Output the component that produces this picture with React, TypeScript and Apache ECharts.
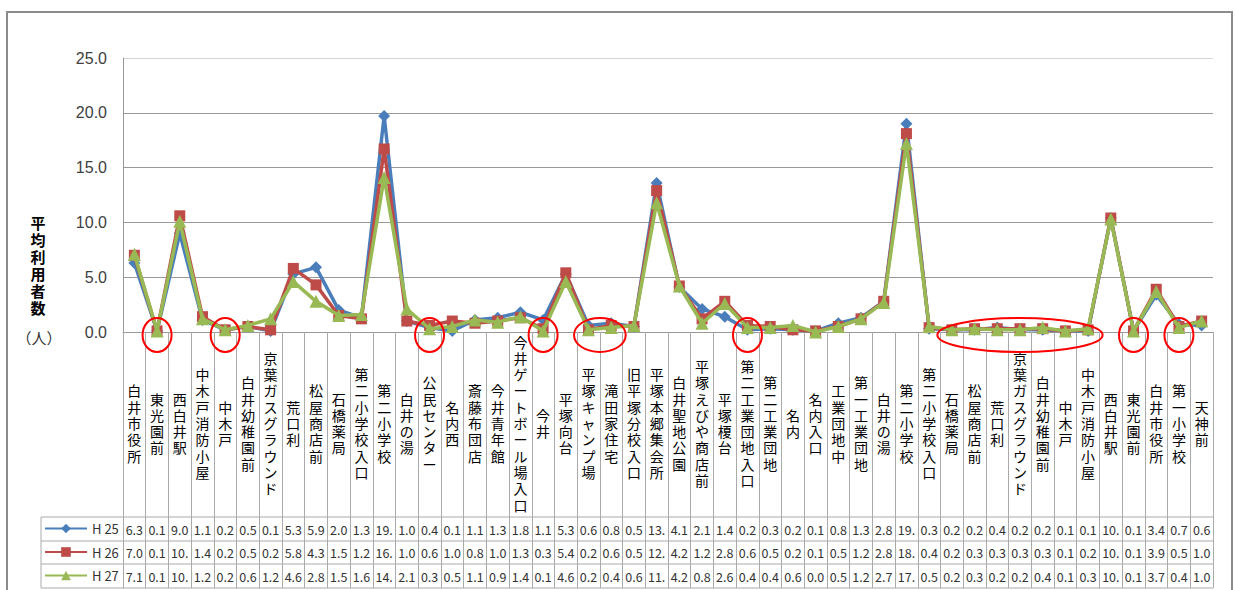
import React, { useEffect, useRef } from "react";
import * as echarts from "echarts";

const categories: string[] = [
  "白井市役所", "東光園前", "西白井駅", "中木戸消防小屋", "中木戸", "白井幼稚園前",
  "京葉ガスグラウンド", "荒口利", "松屋商店前", "石橋薬局", "第二小学校入口", "第二小学校",
  "白井の湯", "公民センター", "名内西", "斎藤布団店", "今井青年館", "今井ゲートボール場入口",
  "今井", "平塚向台", "平塚キャンプ場", "滝田家住宅", "旧平塚分校入口", "平塚本郷集会所",
  "白井聖地公園", "平塚えびや商店前", "平塚榎台", "第二工業団地入口", "第二工業団地", "名内",
  "名内入口", "工業団地中", "第一工業団地", "白井の湯", "第二小学校", "第二小学校入口",
  "石橋薬局", "松屋商店前", "荒口利", "京葉ガスグラウンド", "白井幼稚園前", "中木戸",
  "中木戸消防小屋", "西白井駅", "東光園前", "白井市役所", "第一小学校", "天神前",
];

const h25: number[] = [
  6.3, 0.1, 9.0, 1.1, 0.2, 0.5, 0.1, 5.3, 5.9, 2.0, 1.3, 19.7,
  1.0, 0.4, 0.1, 1.1, 1.3, 1.8, 1.1, 5.3, 0.6, 0.8, 0.5, 13.6,
  4.1, 2.1, 1.4, 0.2, 0.3, 0.2, 0.1, 0.8, 1.3, 2.8, 19.0, 0.3,
  0.2, 0.2, 0.4, 0.2, 0.2, 0.1, 0.1, 10.4, 0.1, 3.4, 0.7, 0.6,
];
const h26: number[] = [
  7.0, 0.1, 10.6, 1.4, 0.2, 0.5, 0.2, 5.8, 4.3, 1.5, 1.2, 16.7,
  1.0, 0.6, 1.0, 0.8, 1.0, 1.3, 0.3, 5.4, 0.2, 0.6, 0.5, 12.9,
  4.2, 1.2, 2.8, 0.6, 0.5, 0.2, 0.1, 0.5, 1.2, 2.8, 18.1, 0.4,
  0.2, 0.3, 0.3, 0.3, 0.3, 0.1, 0.2, 10.4, 0.1, 3.9, 0.5, 1.0,
];
const h27: number[] = [
  7.1, 0.1, 10.1, 1.2, 0.2, 0.6, 1.2, 4.6, 2.8, 1.5, 1.6, 14.1,
  2.1, 0.3, 0.5, 1.1, 0.9, 1.4, 0.1, 4.6, 0.2, 0.4, 0.6, 11.8,
  4.2, 0.8, 2.6, 0.4, 0.4, 0.6, 0.0, 0.5, 1.2, 2.7, 17.2, 0.5,
  0.2, 0.3, 0.2, 0.2, 0.4, 0.1, 0.3, 10.3, 0.1, 3.7, 0.4, 1.0,
];

const seriesNames: string[] = ["H 25", "H 26", "H 27"];
const seriesColors: string[] = ["#4A7EBB", "#BE4B48", "#98B954"];
const seriesSymbols: string[] = ["diamond", "rect", "triangle"];
const yTicks: number[] = [0, 5, 10, 15, 20, 25];
const yAxisTitle = "平均利用者数";
const yAxisUnit = "（人）";

// highlighted stops (start index, end index)
const highlightStart: number[] = [1, 4, 13, 18, 20, 27, 36, 44, 46];
const highlightEnd: number[] = [1, 4, 13, 18, 21, 27, 42, 44, 46];

const FONT = "'Noto Sans CJK JP', 'Noto Sans', sans-serif";
const VFONT = "'Liberation Sans', 'Noto Sans CJK JP', sans-serif";

const fmtCell = (v: number) => v.toFixed(1).slice(0, 3);

export default function App() {
  const ref = useRef<HTMLDivElement>(null);

  useEffect(() => {
    if (!ref.current) return;
    const chart = echarts.init(ref.current, undefined, { renderer: "svg" });
    const allData = [h25, h26, h27];
    const rowCenters = [529, 552.5, 576];
    const axisY = 332;

    const tableAxes = allData.map((arr, k) => ({
      type: "category",
      data: categories,
      gridIndex: 0,
      position: "bottom",
      offset: rowCenters[k] - axisY,
      axisLine: { show: false },
      axisTick: { show: false },
      axisLabel: {
        interval: 0,
        margin: 0,
        verticalAlign: "middle",
        fontSize: 12.5,
        fontFamily: FONT,
        color: "#333",
        formatter: (_v: string, i: number) => fmtCell(arr[i]),
      },
    }));

    const legends = seriesNames.map((name, k) => ({
      data: [name],
      orient: "horizontal",
      left: 44,
      top: rowCenters[k] - 7,
      padding: 0,
      itemWidth: 42,
      itemHeight: 12,
      textStyle: { fontSize: 13, fontFamily: FONT, color: "#333" },
    }));

    const titleChars = yAxisTitle.split("").map((ch, i) => ({
      type: "text",
      x: 38,
      y: 223 + i * 17,
      style: {
        text: ch,
        fontSize: 15,
        fontWeight: "bold",
        fontFamily: VFONT,
        fill: "#000",
        textAlign: "center",
        textVerticalAlign: "middle",
      },
    }));

    chart.setOption({
      animation: false,
      backgroundColor: "#fff",
      grid: { left: 123, right: 22, top: 58, bottom: 258, containLabel: false },
      legend: legends,
      xAxis: [
        {
          type: "category",
          data: categories,
          boundaryGap: true,
          axisLine: { show: true, lineStyle: { color: "#999", width: 1 } },
          axisTick: {
            show: true,
            interval: 0,
            length: 256,
            lineStyle: { color: "#aaa", width: 1 },
          },
          axisLabel: {
            interval: 0,
            margin: 92,
            verticalAlign: "middle",
            align: "center",
            fontSize: 14,
            lineHeight: 16.3,
            fontFamily: VFONT,
            color: "#000",
            formatter: (v: string) => v.split("").join("\n"),
          },
        },
        ...tableAxes,
      ],
      yAxis: {
        type: "value",
        min: 0,
        max: 25,
        interval: 5,
        axisLine: { show: true, lineStyle: { color: "#999" } },
        axisTick: { show: false },
        axisLabel: {
          margin: 16,
          fontSize: 16,
          fontFamily: "'Liberation Sans', Arial, sans-serif",
          color: "#404040",
          formatter: (v: number) => (yTicks.includes(v) ? v.toFixed(1) : ""),
        },
        splitLine: {
          show: true,
          lineStyle: { color: ["#999", "#999", "#999", "#999", "#999", "#d4d4d4"], width: 1 },
        },
      },
      series: [
        ...allData.map((arr, k) => ({
          name: seriesNames[k],
          type: "line",
          data: arr,
          xAxisIndex: 0,
          color: seriesColors[k],
          symbol: seriesSymbols[k],
          symbolSize: k === 0 ? 12 : k === 1 ? 11 : 13,
          lineStyle: { width: 3.5, color: seriesColors[k] },
          itemStyle: { color: seriesColors[k] },
          z: 2 + k,
        })),
        {
          type: "custom",
          name: "highlight",
          xAxisIndex: 0,
          z: 10,
          clip: false,
          data: highlightStart.map((s, i) => [s, highlightEnd[i]]),
          renderItem: (_params: any, api: any) => {
            const p0 = api.coord([api.value(0), 0]);
            const p1 = api.coord([api.value(1), 0]);
            const cx = (p0[0] + p1[0]) / 2;
            const cy = p0[1] + 3;
            const rx = (p1[0] - p0[0]) / 2 + 14.5;
            return {
              type: "ellipse",
              shape: { cx, cy, rx, ry: 17 },
              style: { fill: "none", stroke: "#FF0000", lineWidth: 2 },
            };
          },
        },
      ],
      graphic: [
        {
          type: "rect",
          shape: { x: 7, y: 12, width: 1225, height: 600 },
          style: { fill: "none", stroke: "#8c8c8c", lineWidth: 2 },
          silent: true,
        },
        ...[517, 541, 564, 588].map((y) => ({
          type: "line",
          shape: { x1: 41, y1: y, x2: 1213, y2: y },
          style: { stroke: "#aaa", lineWidth: 1 },
          silent: true,
        })),
        {
          type: "line",
          shape: { x1: 41, y1: 517, x2: 41, y2: 588 },
          style: { stroke: "#aaa", lineWidth: 1 },
          silent: true,
        },
        ...titleChars,
        {
          type: "text",
          x: 39,
          y: 337,
          style: {
            text: yAxisUnit,
            fontSize: 15,
            fontFamily: FONT,
            fill: "#333",
            textAlign: "center",
            textVerticalAlign: "middle",
          },
        },
      ],
    });

    return () => chart.dispose();
  }, []);

  return (
    <div
      ref={ref}
      style={{ position: "fixed", left: 0, top: 0, width: 1235, height: 590 }}
    />
  );
}
